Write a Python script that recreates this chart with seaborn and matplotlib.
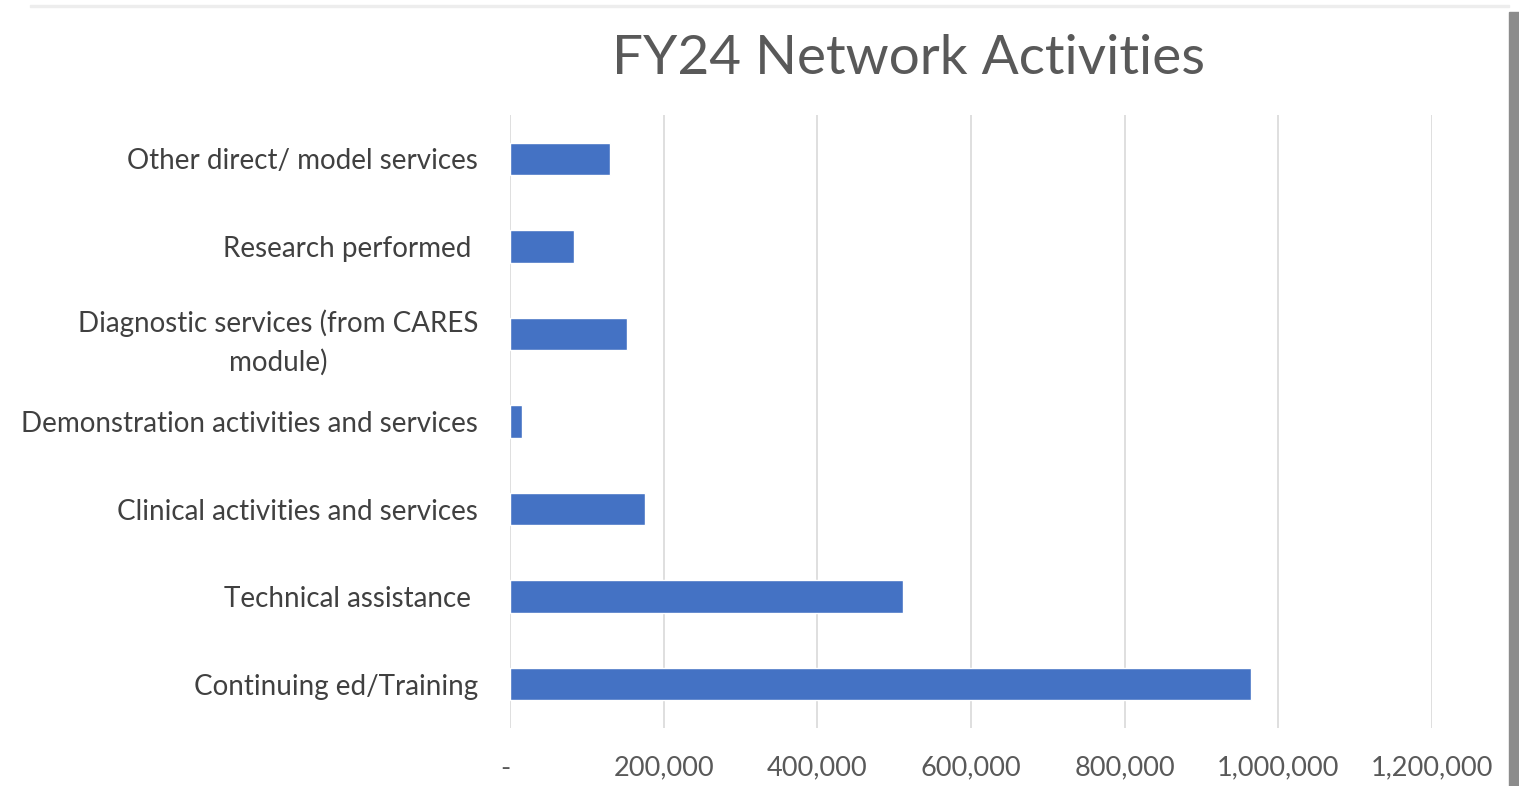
import matplotlib
matplotlib.use("Agg")
import matplotlib.pyplot as plt
import seaborn as sns
import pandas as pd
from matplotlib.patches import Rectangle
from matplotlib.ticker import FuncFormatter

categories = [
    "Other direct/ model services",
    "Research performed ",
    "Diagnostic services (from CARES\nmodule)",
    "Demonstration activities and services",
    "Clinical activities and services",
    "Technical assistance ",
    "Continuing ed/Training",
]
values = [130400, 83000, 152500, 15300, 175600, 512000, 964800]
x_ticks = [0, 200000, 400000, 600000, 800000, 1000000, 1200000]
title = "FY24 Network Activities"

df = pd.DataFrame({"category": categories, "value": values})

sns.set_theme(style="white")
plt.rcParams["font.family"] = ["Lato", "DejaVu Sans"]

W, H = 1519, 786
fig = plt.figure(figsize=(W / 100, H / 100), dpi=100)
ax = fig.add_axes([510 / W, 1 - 728 / H, (1432 - 510) / W, (728 - 115) / H])

sns.barplot(data=df, y="category", x="value", orient="h", color="#4472C4",
            saturation=1, width=0.37, ax=ax)

ax.set_xlim(0, 1200000)
ax.set_xticks(x_ticks)
ax.xaxis.set_major_formatter(FuncFormatter(lambda v, p: "-" if v == 0 else f"{int(v):,}"))
ax.grid(axis="x", color="#D9D9D9", linewidth=1.2)
ax.set_axisbelow(True)
for s in ax.spines.values():
    s.set_visible(False)
ax.set_xlabel("")
ax.set_ylabel("")
ax.tick_params(axis="x", length=0, pad=20, labelsize=19.5, labelcolor="#595959")
ax.tick_params(axis="y", length=0, pad=23, labelsize=20, labelcolor="#404040")
for lab in ax.get_yticklabels():
    lab.set_multialignment("center")
    lab.set_linespacing(1.55)
for lab in ax.get_xticklabels():
    if lab.get_text() == "-":
        lab.set_x(lab.get_position()[0])
        lab.set_horizontalalignment("right")

fig.text(909 / W, 1 - 58 / H, title, ha="center", va="center",
         fontsize=39.5, color="#595959")

# page shadow on right edge and faint top border
fig.patches.append(Rectangle((1509 / W, 0), 10 / W, 1 - 12 / H, transform=fig.transFigure,
                             color="#8C8C8C", zorder=0))
fig.patches.append(Rectangle((30 / W, 1 - 7 / H), (1509 - 30) / W, 2 / H, transform=fig.transFigure,
                             color="#EDEDED", zorder=0))

fig.savefig("out.png", dpi=100)
